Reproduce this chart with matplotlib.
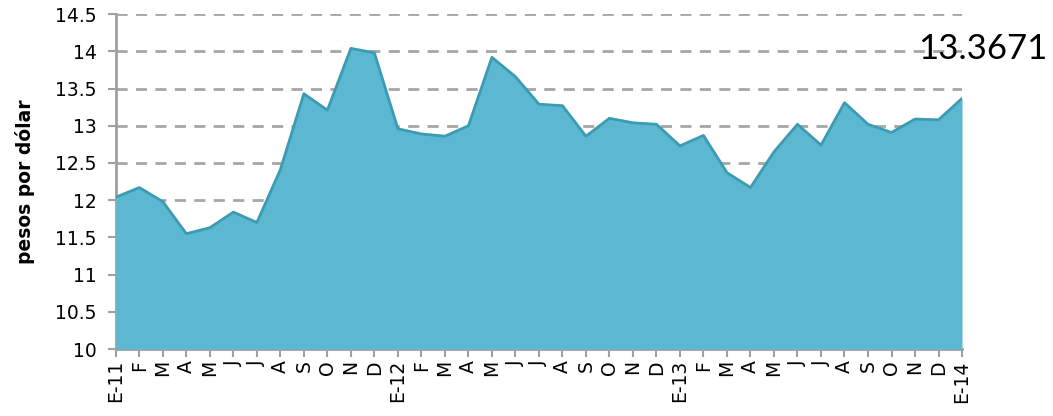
from matplotlib import pyplot as plt
import numpy as np

MONTH_LABELS = ["E-11", "F", "M", "A", "M", "J", "J", "A", "S", "O", "N", "D",
                "E-12", "F", "M", "A", "M", "J", "J", "A", "S", "O", "N", "D",
                "E-13", "F", "M", "A", "M", "J", "J", "A", "S", "O", "N", "D",
                "E-14"]
PESOS = [12.04, 12.17, 11.98, 11.55, 11.63, 11.84, 11.70, 12.41, 13.43, 13.21, 14.04, 13.98,
         12.96, 12.89, 12.86, 13.00, 13.92, 13.66, 13.29, 13.27, 12.86, 13.10, 13.04, 13.02,
         12.73, 12.87, 12.37, 12.17, 12.65, 13.02, 12.74, 13.31, 13.02, 12.91, 13.09, 13.08,
         13.3671]
Y_TICKS = [10, 10.5, 11, 11.5, 12, 12.5, 13, 13.5, 14, 14.5]
Y_TICK_LABELS = ["10", "10.5", "11", "11.5", "12", "12.5", "13", "13.5", "14", "14.5"]
LAST_LABEL = "13.3671"

x = np.arange(len(PESOS))

fig = plt.figure(figsize=(10.53, 4.16), dpi=100)
ax = fig.add_axes([0.110, 0.161, 0.8036, 0.805])

ax.fill_between(x, 10, PESOS, color="#5bb8d0", zorder=3, linewidth=0)
ax.plot(x, PESOS, color="#3b9bb2", linewidth=2, zorder=4)

ax.set_xlim(0, len(PESOS) - 1)
ax.set_ylim(10, 14.5)
ax.set_yticks(Y_TICKS)
ax.set_yticklabels(Y_TICK_LABELS)
ax.set_xticks(x)
ax.set_xticklabels(MONTH_LABELS, rotation=90)

ax.grid(axis="y", color="#a6a6a6", linestyle=(0, (4, 3)), linewidth=2, zorder=1)

for side in ["top", "right"]:
    ax.spines[side].set_visible(False)
for side in ["left", "bottom"]:
    ax.spines[side].set_color("#a0a0a0")
    ax.spines[side].set_linewidth(2)

ax.tick_params(axis="both", colors="#a0a0a0", length=6, width=1.5)
ax.tick_params(axis="y", labelsize=13.5, labelcolor="black", pad=8)
ax.tick_params(axis="x", labelsize=13.5, labelcolor="black", pad=2)

ax.set_ylabel("pesos por dólar", fontsize=13.5, fontweight="bold")
ax.yaxis.set_label_coords(-0.095, 0.5)

# last value, right edge near the figure border
ax.text(0.995, 14.03, LAST_LABEL, fontsize=25, va="center", ha="right",
        family="Lato", zorder=5, clip_on=False,
        transform=ax.get_yaxis_transform().__class__(fig.transFigure, ax.transData))

plt.savefig("out.png", dpi=100)
